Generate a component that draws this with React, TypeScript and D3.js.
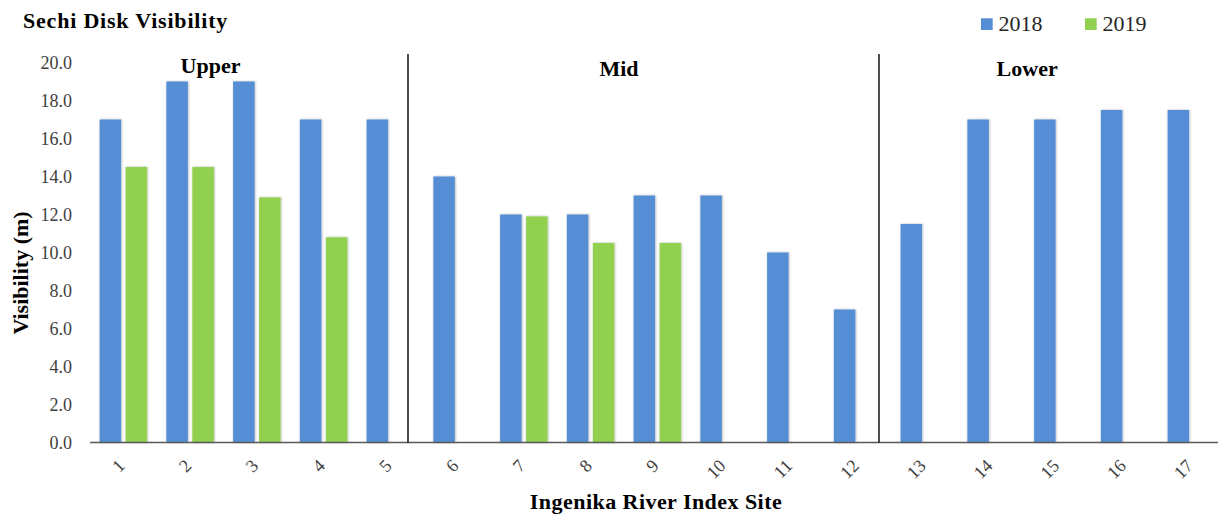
import React from "react";
import * as d3 from "d3";

// Sites along the Ingenika River and Secchi disk readings (m)
const sites = ["1", "2", "3", "4", "5", "6", "7", "8", "9", "10", "11", "12", "13", "14", "15", "16", "17"];
const seriesNames = ["2018", "2019"];
const values2018 = [17, 19, 19, 17, 17, 14, 12, 12, 13, 13, 10, 7, 11.5, 17, 17, 17.5, 17.5];
const values2019: (number | null)[] = [14.5, 14.5, 12.9, 10.8, null, null, 11.9, 10.5, 10.5, null, null, null, null, null, null, null, null];
const yTickValues = [0, 2, 4, 6, 8, 10, 12, 14, 16, 18, 20];

// River reaches: label position and divider position along the site axis
const reachNames = ["Upper", "Mid", "Lower"];
const reachLabelAt = [2.305, 8.425, 14.54];
const reachDividerAt = [5.264, 12.32];

const colors = ["#558ED5", "#92D050"];

const W = 1218;
const H = 517;
const plotLeft = 90;
const step = 66.75;
const plotRight = plotLeft + step * sites.length;
const plotTop = 62.5;
const plotBottom = 442.5;

const FONT = "'Liberation Serif', 'Times New Roman', 'DejaVu Serif', serif";

export default function App() {
  const x0 = d3.scaleBand<string>().domain(sites).range([plotLeft, plotRight]).paddingInner(0).paddingOuter(0);
  const x1 = d3.scaleBand<string>().domain(seriesNames).range([9.6, 57.1]).paddingInner(0.173);
  const siteAxis = d3.scaleLinear().domain([0.5, sites.length + 0.5]).range([plotLeft, plotRight]);
  const y = d3.scaleLinear().domain([0, 20]).range([plotBottom, plotTop]);
  const fmt = d3.format(".1f");

  const seriesValues = [values2018, values2019];

  return (
    <svg
      width={W}
      height={H}
      style={{ position: "absolute", left: 0, top: 0, background: "#fff", fontFamily: FONT }}
    >
      <defs>
        <filter id="barShadow" x="-20%" y="-5%" width="140%" height="110%">
          <feDropShadow dx="0.6" dy="0" stdDeviation="1" floodColor="#000" floodOpacity="0.3" />
        </filter>
      </defs>
      <rect x={0} y={0} width={W} height={H} fill="#fff" />

      {/* Title */}
      <text x={23} y={28} fontSize={22} fontWeight="bold" fill="#000" letterSpacing={0.8}>
        Sechi Disk Visibility
      </text>

      {/* Legend */}
      {seriesNames.map((name, i) => {
        const lx = [981, 1085][i];
        return (
          <g key={name}>
            <rect x={lx} y={18.3} width={11.7} height={11.7} fill={colors[i]} />
            <text x={lx + 17.5} y={30.5} fontSize={22} fill="#262626">
              {name}
            </text>
          </g>
        );
      })}

      {/* Y tick labels */}
      {yTickValues.map((t) => (
        <text key={t} x={72} y={y(t) + 6} fontSize={18} fill="#404040" textAnchor="end">
          {fmt(t)}
        </text>
      ))}

      {/* Y axis title */}
      <text
        transform={`translate(28,273) rotate(-90)`}
        fontSize={22}
        fontWeight="bold"
        fill="#000"
        textAnchor="middle"
      >
        Visibility (m)
      </text>

      {/* Bars */}
      <g filter="url(#barShadow)">
        {sites.map((s, i) =>
          seriesNames.map((name, k) => {
            const v = seriesValues[k][i];
            if (v == null) return null;
            const bx = (x0(s) as number) + (x1(name) as number);
            return (
              <rect
                key={s + name}
                x={bx}
                y={y(v)}
                width={x1.bandwidth()}
                height={plotBottom - y(v)}
                fill={colors[k]}
              />
            );
          })
        )}
      </g>

      {/* X axis line */}
      <line x1={plotLeft} x2={plotRight} y1={plotBottom} y2={plotBottom} stroke="#595959" strokeWidth={1.5} />

      {/* Reach dividers */}
      {reachDividerAt.map((p, i) => (
        <line key={i} x1={siteAxis(p)} x2={siteAxis(p)} y1={54} y2={plotBottom} stroke="#000" strokeWidth={1.4} />
      ))}

      {/* Reach labels */}
      {reachNames.map((n, i) => (
        <text
          key={n}
          x={siteAxis(reachLabelAt[i])}
          y={[73, 75.5, 75.5][i]}
          fontSize={22}
          fontWeight="bold"
          fill="#000"
          textAnchor="middle"
        >
          {n}
        </text>
      ))}

      {/* X tick labels */}
      {sites.map((s) => {
        const cx = (x0(s) as number) + x0.bandwidth() / 2 + 2.5;
        return (
          <text
            key={s}
            transform={`translate(${cx},467) rotate(-45)`}
            fontSize={18}
            fill="#404040"
            textAnchor="end"
          >
            {s}
          </text>
        );
      })}

      {/* X axis title */}
      <text x={656} y={509} fontSize={22} fontWeight="bold" fill="#000" textAnchor="middle" letterSpacing={0.45}>
        Ingenika River Index Site
      </text>
    </svg>
  );
}
